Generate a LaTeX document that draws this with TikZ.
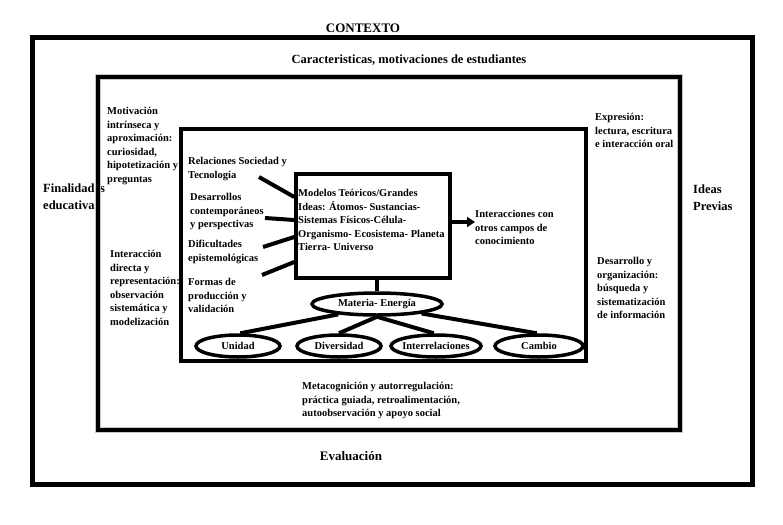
\documentclass[tikz,border=0pt]{standalone}
\usepackage{fontspec}
\setmainfont{Liberation Serif}
\usetikzlibrary{shapes.geometric,arrows.meta,calc}
\tikzset{
  small/.style={font=\bfseries\fontsize{10.5}{13.6}\selectfont, align=left, inner sep=0pt, anchor=north west},
  big/.style={font=\bfseries\fontsize{12.5}{17}\selectfont, align=left, inner sep=0pt},
  link/.style={line width=4pt},
  oval/.style={ellipse, draw, line width=3.5pt, minimum height=22pt, inner sep=0pt},
  lbl/.style={font=\bfseries\fontsize{10.5}{13}\selectfont, inner sep=0pt}
}
\begin{document}
\begin{tikzpicture}[x=1pt,y=-1pt]
\path[use as bounding box, fill=white] (0,0) rectangle (783,524);

% titles
\node[big, font=\bfseries\fontsize{13}{15}\selectfont] (ctx) at (363,28) {CONTEXTO};
\node[big] (car) at (409,60) {Caracteristicas, motivaciones de estudiantes};
\node[big, font=\bfseries\fontsize{13}{15}\selectfont] (eva) at (351,456) {Evaluación};
\node[big, anchor=north west] (fin) at (43,184) {Finalidades\\educativas};
\node[big, anchor=north west] (ide) at (693,185) {Ideas\\Previas};

% frames
\draw[line width=5pt] (32.5,38) rectangle (752.5,484);
\draw[gray!45, line width=6pt] (98,77) rectangle (680,430);
\draw[line width=4pt] (98,77) rectangle (680,430);
\draw[line width=4pt] (181,129) rectangle (586,361);

% texts in middle frame
\node[small] (mot) at (107,107) {Motivación\\intrínseca y\\aproximación:\\curiosidad,\\hipotetización y\\preguntas};
\node[small] (int) at (110,250) {Interacción\\directa y\\representación:\\observación\\sistemática y\\modelización};
\node[small] (exp) at (595,113) {Expresión:\\lectura, escritura\\e interacción oral};
\node[small] (des) at (597,257) {Desarrollo y\\organización:\\búsqueda y\\sistematización\\de información};
\node[small] (met) at (302,382) {Metacognición y autorregulación:\\práctica guiada, retroalimentación,\\autoobservación y apoyo social};

% inner frame
\node[small] (rel) at (188,157) {Relaciones Sociedad y\\Tecnología};
\node[small] (dco) at (190,193) {Desarrollos\\contemporáneos\\y perspectivas};
\node[small] (dif) at (188,240) {Dificultades\\epistemológicas};
\node[small] (for) at (188,278) {Formas de\\producción y\\validación};

\node[draw, line width=3.5pt, minimum width=154pt, minimum height=104pt, inner sep=0pt] (box) at (373,226) {};
\node[small] (boxt) at (298,189) {Modelos Teóricos/Grandes\\Ideas: Átomos- Sustancias-\\Sistemas Físicos-Célula-\\Organismo- Ecosistema- Planeta\\Tierra- Universo};

\coordinate (c1) at (259,177);
\coordinate (c2) at (265,218);
\coordinate (c3) at (263,247);
\coordinate (c4) at (262,275);
\draw[link] (c1) -- (box.west |- 0,197);
\draw[link] (c2) -- (box.west |- 0,220);
\draw[link] (c3) -- (box.west |- 0,237);
\draw[link] (c4) -- (box.west |- 0,262);

\node[small] (oth) at (475,210) {Interacciones con\\otros campos de\\conocimiento};
\draw[link, -{Triangle[length=8pt,width=10pt]}] (box.east |- 0,222) -- (oth.west |- 0,222);

% ovals
\node[oval, minimum width=130pt, label={[lbl]center:Materia- Energía}] (m) at (377,304) {};
\node[oval, minimum width=84pt, label={[lbl]center:Unidad}] (u) at (238,346) {};
\node[oval, minimum width=84pt, label={[lbl]center:Diversidad}] (d) at (339,346) {};
\node[oval, minimum width=90pt, label={[lbl]center:Interrelaciones}] (i) at (436,346) {};
\node[oval, minimum width=88pt, label={[lbl]center:Cambio}] (c) at (539,346) {};

\draw[link] (m.north |- box.south) -- (m.north);
\draw[link] (m.195) -- (u.80);
\draw[link] (m.south) -- (d.north);
\draw[link] (m.south) -- (i.100);
\draw[link] (m.348) -- (c.100);
\end{tikzpicture}
\end{document}
